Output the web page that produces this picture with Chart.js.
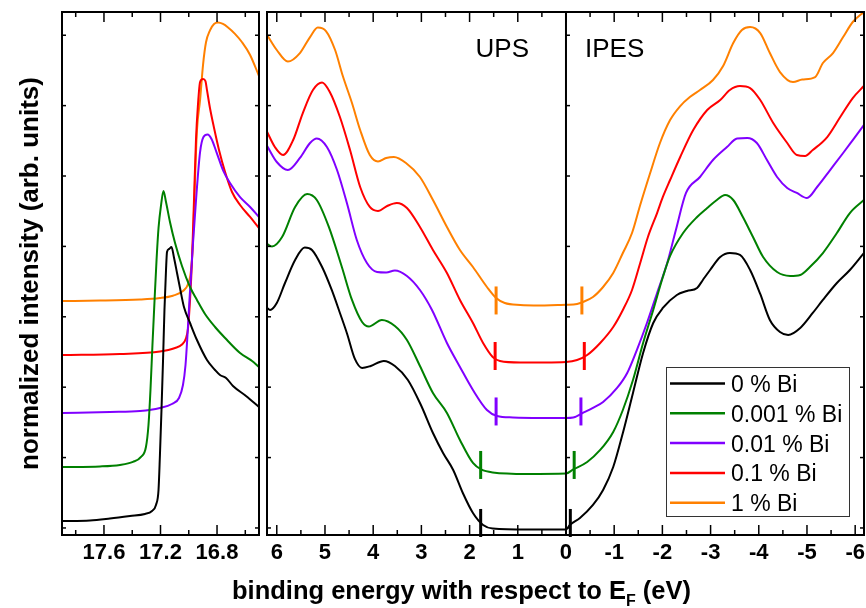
<!DOCTYPE html>
<html>
<head>
<meta charset="utf-8">
<title>Bi-doped spectra</title>
<script src="https://cdn.jsdelivr.net/npm/chart.js@4.4.1/dist/chart.umd.min.js"></script>
<style>
  body { margin: 0; background: #fff; }
  #wrap { position: relative; width: 866px; height: 608px; overflow: hidden; }
  canvas { position: absolute; top: 0; }
  #seco { left: 0; }
  #spec { left: 262px; }
  #xtitle {
    position: absolute; left: 0; width: 923px; top: 577px;
    text-align: center; white-space: nowrap;
    font: bold 25.5px "Liberation Sans", Arial, sans-serif; line-height: 26px; color: #000;
  }
  #xtitle sub { font-size: 16px; vertical-align: -7px; line-height: 0; }
</style>
</head>
<body>
<div id="wrap">
  <canvas id="seco" width="262" height="608"></canvas>
  <canvas id="spec" width="604" height="608"></canvas>
  <div id="xtitle">binding energy with respect to E<sub>F</sub> (eV)</div>
</div>
<script>
const FONT = '"Liberation Sans", Arial, sans-serif';

const labels = ['0 % Bi', '0.001 % Bi', '0.01 % Bi', '0.1 % Bi', '1 % Bi'];
const colors = ['#000000', '#008000', '#8000ff', '#ff0000', '#ff8000'];

// secondary electron cutoff (left panel), [energy, intensity]
const secoBlack = [[17.897,0.99],[17.699,1.07],[17.558,1.35],[17.416,1.70],[17.310,1.99],[17.260,2.41],[17.232,3.27],[17.214,5.4],[17.204,10.37],[17.193,16.76],[17.182,23.86],[17.172,30.97],[17.161,36.65],[17.154,39.2],[17.140,39.63],[17.122,39.91],[17.104,38.35],[17.083,36.22],[17.062,34.09],[17.034,31.39],[16.991,29.12],[16.942,26.7],[16.871,23.86],[16.814,22.44],[16.779,21.73],[16.736,21.31],[16.687,20.17],[16.595,18.75],[16.503,17.19]];
const secoGreen = [[17.897,8.66],[17.628,8.74],[17.487,8.95],[17.395,9.38],[17.338,10.09],[17.303,11.51],[17.285,14.63],[17.271,19.6],[17.257,25.99],[17.242,32.39],[17.228,38.07],[17.214,42.61],[17.196,45.88],[17.179,47.87],[17.161,46.31],[17.133,43.47],[17.097,40.48],[17.048,37.22],[16.991,34.23],[16.942,32.39],[16.885,30.4],[16.814,28.55],[16.743,26.99],[16.637,24.86],[16.552,23.72],[16.503,22.87]];
const secoPurple = [[17.897,16.34],[17.558,16.48],[17.345,16.62],[17.204,17.05],[17.119,17.61],[17.069,18.47],[17.041,20.31],[17.023,23.15],[17.009,27.41],[16.995,32.39],[16.970,40.48],[16.945,47.59],[16.920,53.4],[16.896,55.54],[16.867,55.9],[16.839,55.26],[16.804,53.4],[16.758,50.85],[16.708,49.0],[16.637,47.0],[16.566,45.6],[16.503,44.18]];
const secoRed = [[17.897,24.57],[17.487,24.72],[17.204,25.07],[17.097,25.57],[17.048,26.07],[17.019,26.99],[17.005,28.41],[16.991,32.39],[16.977,38.07],[16.963,46.59],[16.949,55.1],[16.935,60.1],[16.920,63.35],[16.899,63.78],[16.882,63.49],[16.871,62.2],[16.850,59.66],[16.821,56.82],[16.786,53.7],[16.743,50.57],[16.694,47.73],[16.637,45.88],[16.566,44.18],[16.503,42.61]];
const secoOrange = [[17.897,32.24],[17.628,32.3],[17.345,32.46],[17.204,32.67],[17.112,33.0],[17.041,33.66],[17.005,34.66],[16.984,36.65],[16.970,40.9],[16.956,49.4],[16.942,56.5],[16.920,60.8],[16.899,65.8],[16.878,69.0],[16.850,70.7],[16.821,71.6],[16.793,71.8],[16.758,71.6],[16.722,71.1],[16.673,70.2],[16.623,69.0],[16.566,67.2],[16.503,64.2]];

// UPS (E > 0) and IPES (E < 0) spectra, [binding energy, intensity]
const specBlack = [[6.20,31.25],[6.14,30.97],[6.00,31.96],[5.83,34.8],[5.62,38.07],[5.42,39.84],[5.27,39.49],[5.06,37.07],[4.86,33.81],[4.69,30.54],[4.54,27.56],[4.38,24.01],[4.23,22.73],[4.05,23.01],[3.78,23.72],[3.55,23.01],[3.28,21.02],[3.01,17.47],[2.76,13.49],[2.55,10.65],[2.34,8.24],[2.14,4.97],[1.93,2.13],[1.72,0.43],[1.52,-0.07],[0.81,-0.21],[0,-0.21],[-0.08,0.43],[-0.29,1.42],[-0.56,3.27],[-0.77,5.4],[-0.98,8.66],[-1.18,13.49],[-1.39,19.18],[-1.60,24.86],[-1.81,29.12],[-2.01,31.25],[-2.30,33.1],[-2.51,33.66],[-2.72,34.09],[-2.84,35.23],[-2.99,36.65],[-3.20,38.49],[-3.40,39.06],[-3.61,38.78],[-3.82,36.65],[-4.03,33.24],[-4.23,29.55],[-4.44,27.84],[-4.61,27.41],[-4.86,28.41],[-5.12,30.54],[-5.33,32.39],[-5.62,34.8],[-5.89,36.65],[-6.18,39.06]];
const specGreen = [[6.20,40.34],[6.10,39.99],[5.89,41.34],[5.62,45.6],[5.37,47.44],[5.17,46.59],[4.92,42.76],[4.65,37.07],[4.44,32.39],[4.23,29.26],[4.09,28.62],[3.82,29.55],[3.55,28.69],[3.30,26.7],[3.03,23.01],[2.76,19.18],[2.47,16.34],[2.20,12.5],[1.93,9.23],[1.76,8.31],[1.52,7.88],[0.81,7.67],[0,7.74],[-0.15,8.31],[-0.44,9.38],[-0.71,11.08],[-0.98,13.64],[-1.18,16.76],[-1.39,21.02],[-1.60,26.28],[-1.81,30.97],[-2.01,35.65],[-2.16,38.64],[-2.43,41.9],[-2.72,44.18],[-2.93,45.45],[-3.13,46.59],[-3.30,47.3],[-3.47,46.59],[-3.67,44.18],[-3.88,41.34],[-4.09,38.49],[-4.38,36.36],[-4.65,35.8],[-4.86,35.94],[-5.06,37.07],[-5.33,39.06],[-5.62,41.9],[-5.89,44.74],[-6.18,46.59]];
const specPurple = [[6.20,54.26],[6.00,51.99],[5.77,50.85],[5.52,52.56],[5.31,54.69],[5.17,55.33],[4.96,54.12],[4.75,50.85],[4.54,46.02],[4.34,40.91],[4.13,37.64],[3.92,36.36],[3.73,36.29],[3.55,36.58],[3.30,35.8],[3.03,33.81],[2.78,30.97],[2.47,26.28],[2.20,22.87],[1.93,19.6],[1.64,16.76],[1.43,15.91],[1.10,15.7],[0.54,15.63],[0,15.63],[-0.15,15.7],[-0.35,16.34],[-0.56,17.05],[-0.77,17.9],[-1.06,19.89],[-1.27,22.02],[-1.47,25.28],[-1.68,29.12],[-1.89,33.38],[-2.10,37.64],[-2.28,42.33],[-2.49,47.59],[-2.78,49.86],[-3.05,52.27],[-3.34,54.12],[-3.55,55.33],[-3.76,55.4],[-3.96,54.69],[-4.17,52.27],[-4.38,49.86],[-4.59,48.3],[-4.79,47.59],[-5.00,46.88],[-5.21,48.44],[-5.48,50.85],[-5.75,53.27],[-5.95,55.11],[-6.18,57.24]];
const specRed = [[6.20,56.25],[6.04,54.12],[5.87,52.98],[5.66,55.11],[5.46,58.95],[5.25,62.22],[5.06,63.28],[4.90,61.93],[4.69,58.38],[4.48,53.69],[4.27,48.44],[4.07,45.6],[3.90,45.03],[3.71,45.74],[3.51,46.16],[3.30,45.45],[3.03,42.76],[2.76,39.49],[2.47,36.22],[2.20,32.39],[1.93,29.12],[1.72,26.28],[1.52,24.29],[1.37,23.72],[0.95,23.51],[0.44,23.51],[0,23.58],[-0.23,23.86],[-0.44,24.57],[-0.71,26.28],[-0.98,28.55],[-1.18,30.97],[-1.37,33.81],[-1.54,37.64],[-1.70,41.34],[-1.89,44.74],[-2.01,47.02],[-2.16,49.43],[-2.37,52.7],[-2.64,56.53],[-2.93,59.38],[-3.20,60.8],[-3.40,62.22],[-3.61,62.78],[-3.82,62.5],[-4.03,60.8],[-4.30,57.53],[-4.59,54.69],[-4.79,52.98],[-4.96,52.84],[-5.12,53.69],[-5.42,55.54],[-5.69,58.38],[-5.95,61.08],[-6.18,62.78]];
const specOrange = [[6.20,70.03],[6.00,67.9],[5.77,66.26],[5.52,67.47],[5.31,69.74],[5.15,71.09],[4.98,70.6],[4.79,67.9],[4.63,64.2],[4.44,60.37],[4.27,56.53],[4.07,52.98],[3.90,52.06],[3.73,52.56],[3.57,52.7],[3.32,51.85],[3.03,49.86],[2.76,46.59],[2.47,42.76],[2.20,39.49],[1.93,37.07],[1.64,34.23],[1.45,32.67],[1.27,31.96],[0.95,31.68],[0.54,31.61],[0.17,31.68],[0,31.7],[-0.23,31.82],[-0.35,32.1],[-0.56,32.81],[-0.77,34.23],[-0.98,36.22],[-1.18,39.06],[-1.37,41.9],[-1.54,45.88],[-1.74,50.28],[-1.95,54.69],[-2.16,57.95],[-2.37,59.94],[-2.57,61.22],[-2.78,62.22],[-3.05,63.64],[-3.26,65.63],[-3.47,68.89],[-3.65,70.74],[-3.82,71.16],[-4.03,70.31],[-4.23,67.47],[-4.44,64.77],[-4.71,63.35],[-4.90,63.7],[-5.17,64.06],[-5.33,66.05],[-5.54,67.47],[-5.75,69.74],[-5.95,71.88],[-6.18,73.3]];

// VB / CB onsets, [energy, intensity]
const onsetBlack = [[1.77, 0.71], [-0.09, 0.71]];
const onsetGreen = [[1.77, 8.95], [-0.17, 8.95]];
const onsetPurple = [[1.45, 16.55], [-0.31, 16.55]];
const onsetRed = [[1.47, 24.43], [-0.38, 24.43]];
const onsetOrange = [[1.45, 32.32], [-0.33, 32.32]];

const secoTicks = [17.8, 17.6, 17.4, 17.2, 17.0, 16.8, 16.6];
const secoLabelled = [17.6, 17.2, 16.8];
const specTicks = [6, 5.5, 5, 4.5, 4, 3.5, 3, 2.5, 2, 1.5, 1, 0.5, 0, -0.5, -1, -1.5, -2, -2.5, -3, -3.5, -4, -4.5, -5, -5.5, -6];
const specLabelled = [6, 5, 4, 3, 2, 1, 0, -1, -2, -3, -4, -5, -6];
const yTicks = [0, 10, 20, 30, 40, 50, 60, 70];

Chart.defaults.font.family = FONT;
Chart.defaults.color = '#000';

function curve(points, i) {
  return {
    label: labels[i],
    data: points.map(p => ({ x: p[0], y: p[1] })),
    borderColor: colors[i],
    borderWidth: 2,
    pointRadius: 0,
    cubicInterpolationMode: 'monotone',
    fill: false
  };
}

function onset(points, i) {
  return {
    data: points.map(p => ({ x: p[0], y: p[1] })),
    showLine: false,
    pointStyle: 'line',
    pointRotation: 90,
    pointRadius: 14,
    pointBorderColor: colors[i],
    pointBorderWidth: 3,
    clip: false,
    order: -1
  };
}

function seg(ctx, x1, y1, x2, y2) {
  ctx.beginPath();
  ctx.moveTo(x1, y1);
  ctx.lineTo(x2, y2);
  ctx.stroke();
}

// box frame with inward ticks on every side, plus optional divider lines
const framePlugin = {
  id: 'frame',
  afterDraw(chart, args, opts) {
    const { ctx, chartArea: a, scales: { x, y } } = chart;
    const dividers = (opts.dividers || []).map(v => x.getPixelForValue(v));
    ctx.save();
    ctx.strokeStyle = '#000';
    ctx.lineWidth = 1.5;
    opts.xTicks.forEach(v => {
      const px = x.getPixelForValue(v);
      const len = opts.xLabelled.includes(v) ? 10 : 5;
      seg(ctx, px, a.bottom, px, a.bottom - len);
      seg(ctx, px, a.top, px, a.top + len);
    });
    yTicks.forEach(v => {
      const py = y.getPixelForValue(v);
      seg(ctx, a.left, py, a.left + 4, py);
      seg(ctx, a.right, py, a.right - 4, py);
      dividers.forEach(d => seg(ctx, d, py, d + 4, py));
    });
    ctx.lineWidth = 2;
    ctx.strokeRect(a.left, a.top, a.right - a.left, a.bottom - a.top);
    dividers.forEach(d => seg(ctx, d, a.top, d, a.bottom));
    ctx.restore();
  }
};

// panel captions and the boxed legend in the spectra chart
const specDecor = {
  id: 'specDecor',
  afterDraw(chart) {
    const { ctx, chartArea: a, scales: { x } } = chart;
    const x0 = x.getPixelForValue(0);
    ctx.save();
    ctx.fillStyle = '#000';
    ctx.font = '26px ' + FONT;
    ctx.textBaseline = 'alphabetic';
    ctx.textAlign = 'right';
    ctx.fillText('UPS', x0 - 37, a.top + 45);
    ctx.textAlign = 'left';
    ctx.fillText('IPES', x0 + 19, a.top + 45);

    const items = chart.data.datasets.filter(d => d.label);
    const w = 183, h = 149;
    const left = a.right - 15 - w, top = a.bottom - 19 - h;
    ctx.fillStyle = '#fff';
    ctx.fillRect(left, top, w, h);
    ctx.strokeStyle = '#333';
    ctx.lineWidth = 1;
    ctx.strokeRect(left + 0.5, top + 0.5, w, h);
    ctx.font = '23px ' + FONT;
    items.forEach((d, i) => {
      const yy = top + 16.5 + i * 29.8;
      ctx.strokeStyle = d.borderColor;
      ctx.lineWidth = 2.5;
      seg(ctx, left + 4, yy, left + 59, yy);
      ctx.fillStyle = '#000';
      ctx.fillText(d.label, left + 65, yy + 8.5);
    });
    ctx.restore();
  }
};

function xAxis(min, max, ticks, labelled, fmt) {
  return {
    type: 'linear',
    reverse: true,
    min: min,
    max: max,
    grid: { display: false, drawTicks: false },
    border: { display: false },
    afterBuildTicks: s => { s.ticks = ticks.map(v => ({ value: v })); },
    afterFit: s => { s.height = 73; s.paddingLeft = 0; s.paddingRight = 0; },
    ticks: {
      autoSkip: false,
      maxRotation: 0,
      padding: 5,
      font: { size: 22, weight: 'bold' },
      color: '#000',
      callback: v => labelled.includes(v) ? fmt(v) : ''
    }
  };
}

const yRange = { min: -1, max: 73.3 };

new Chart(document.getElementById('seco'), {
  type: 'line',
  data: {
    datasets: [
      curve(secoBlack, 0), curve(secoGreen, 1), curve(secoPurple, 2),
      curve(secoRed, 3), curve(secoOrange, 4)
    ]
  },
  options: {
    responsive: false,
    animation: false,
    events: [],
    layout: { autoPadding: false, padding: { top: 12, right: 3 } },
    plugins: {
      legend: { display: false },
      tooltip: { enabled: false },
      frame: { xTicks: secoTicks, xLabelled: secoLabelled }
    },
    scales: {
      x: xAxis(16.503, 17.897, secoTicks, secoLabelled, v => v.toFixed(1)),
      y: {
        min: yRange.min,
        max: yRange.max,
        grid: { display: false },
        border: { display: false },
        ticks: { display: false },
        afterFit: s => { s.width = 62; },
        title: {
          display: true,
          text: 'normalized intensity (arb. units)',
          font: { size: 26, weight: 'bold' },
          color: '#000',
          padding: { top: 15, bottom: 0 }
        }
      }
    }
  },
  plugins: [framePlugin]
});

new Chart(document.getElementById('spec'), {
  type: 'line',
  data: {
    datasets: [
      curve(specBlack, 0), curve(specGreen, 1), curve(specPurple, 2),
      curve(specRed, 3), curve(specOrange, 4),
      onset(onsetBlack, 0), onset(onsetGreen, 1), onset(onsetPurple, 2),
      onset(onsetRed, 3), onset(onsetOrange, 4)
    ]
  },
  options: {
    responsive: false,
    animation: false,
    events: [],
    layout: { autoPadding: false, padding: { top: 12, left: 5, right: 2 } },
    plugins: {
      legend: { display: false },
      tooltip: { enabled: false },
      frame: { xTicks: specTicks, xLabelled: specLabelled, dividers: [0] }
    },
    scales: {
      x: xAxis(-6.183, 6.203, specTicks, specLabelled, v => String(v)),
      y: { display: false, min: yRange.min, max: yRange.max }
    }
  },
  plugins: [framePlugin, specDecor]
});
</script>
</body>
</html>
